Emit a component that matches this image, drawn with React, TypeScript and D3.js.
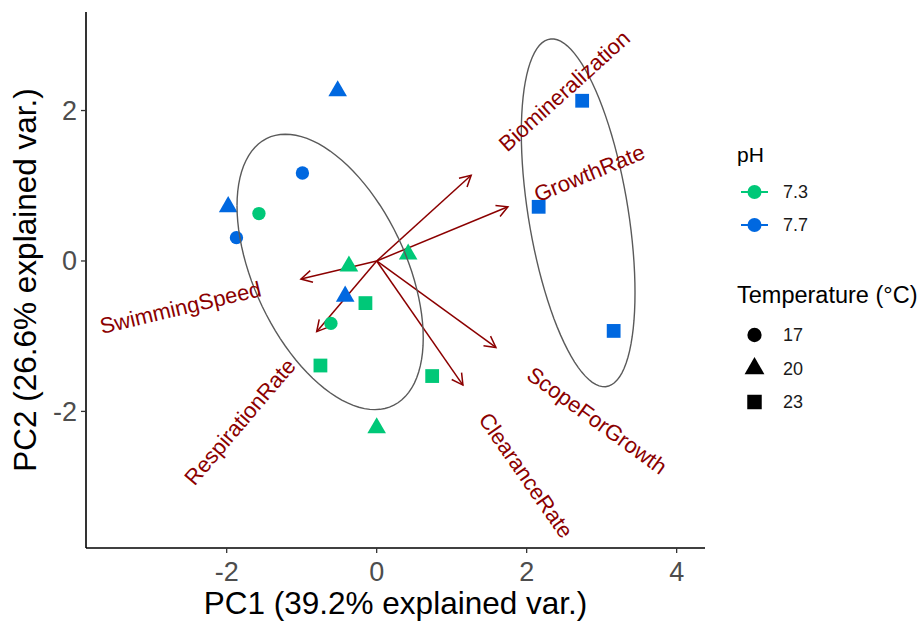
import React from "react";
import * as d3 from "d3";

// PCA scores
const pc1 = [-0.52, -1.98, -0.99, -1.87, -1.57, -0.37, 0.42, -0.42, -0.15, -0.61, -0.75, 0.74, 0.0, 2.74, 2.16, 3.16];
const pc2 = [2.26, 0.72, 1.17, 0.31, 0.63, -0.07, 0.09, -0.47, -0.56, -0.83, -1.39, -1.53, -2.22, 2.13, 0.72, -0.93];
const phLevel = ["7.7", "7.7", "7.7", "7.7", "7.3", "7.3", "7.3", "7.7", "7.3", "7.3", "7.3", "7.3", "7.3", "7.7", "7.7", "7.7"];
const tempLevel = ["20", "20", "17", "17", "17", "20", "20", "20", "23", "17", "23", "23", "20", "23", "23", "23"];
const ellipseGroup = ["a", "a", "a", "a", "a", "a", "a", "a", "a", "a", "a", "a", "a", "b", "b", "b"];

// variable loadings (arrow tips)
const varNames = ["Biomineralization", "GrowthRate", "SwimmingSpeed", "RespirationRate", "ScopeForGrowth", "ClearanceRate"];
const varX = [1.26, 1.75, -1.01, -0.8, 1.59, 1.15];
const varY = [1.14, 0.72, -0.24, -0.94, -1.15, -1.65];

const phLevels = ["7.3", "7.7"];
const phColors = ["#00C878", "#0068E0"];
const tempLevels = ["17", "20", "23"];
const xTicks = [-2, 0, 2, 4];
const yTicks = [-2, 0, 2];

const W = 920;
const H = 624;
const FONT = "'Liberation Sans', Arial, Helvetica, sans-serif";
const LABEL_SIZE = 22;

let ctx: CanvasRenderingContext2D | null = null;
const textWidth = (s: string, size: number) => {
  if (!ctx) ctx = document.createElement("canvas").getContext("2d");
  if (!ctx) return s.length * size * 0.55;
  ctx.font = `${size}px ${FONT}`;
  return ctx.measureText(s).width;
};

const App = () => {
  const x = d3.scaleLinear().domain([-3.876, 4.378]).range([86, 705]);
  const y = d3.scaleLinear().domain([-3.816, 3.31]).range([548, 12]);
  const color = d3.scaleOrdinal<string, string>().domain(phLevels).range(phColors);
  const shape = d3
    .scaleOrdinal<string, d3.SymbolType>()
    .domain(tempLevels)
    .range([d3.symbolCircle, d3.symbolTriangle, d3.symbolSquare]);
  const sizeOf = (t: string) => (t === "17" ? 140 : t === "20" ? 150 : 190);

  const points = pc1.map((v, i) => ({
    x: v,
    y: pc2[i],
    ph: phLevel[i],
    temp: tempLevel[i],
    group: ellipseGroup[i],
  }));

  // 68% normal ellipses, same way ggbiplot does it
  const ed = Math.sqrt(-2 * Math.log(1 - 0.68));
  const groups = Array.from(new Set(ellipseGroup));
  const ellipses = groups.map((g) => {
    const pts = points.filter((p) => p.group === g);
    const mx = d3.mean(pts, (p) => p.x) as number;
    const my = d3.mean(pts, (p) => p.y) as number;
    const n = pts.length;
    const sxx = d3.sum(pts, (p) => (p.x - mx) ** 2) / (n - 1);
    const syy = d3.sum(pts, (p) => (p.y - my) ** 2) / (n - 1);
    const sxy = d3.sum(pts, (p) => (p.x - mx) * (p.y - my)) / (n - 1);
    const r11 = Math.sqrt(sxx);
    const r12 = sxy / r11;
    const r22 = Math.sqrt(syy - r12 * r12);
    const ring = d3.range(101).map((k) => {
      const t = -Math.PI + (2 * Math.PI * k) / 100;
      const c = Math.cos(t);
      const s = Math.sin(t);
      return [mx + ed * c * r11, my + ed * (c * r12 + s * r22)] as [number, number];
    });
    return d3
      .line<[number, number]>()
      .x((d) => x(d[0]))
      .y((d) => y(d[1]))(ring);
  });

  const arrowColor = "#8B0000";

  return (
    <svg width={W} height={H} style={{ position: "absolute", left: 0, top: 0, background: "#fff" }} fontFamily={FONT}>
      <defs>
        <marker id="ah" viewBox="-12 -8 14 16" refX={0} refY={0} markerWidth={14} markerHeight={16} markerUnits="userSpaceOnUse" orient="auto">
          <path d="M-11,-6 L0,0 L-11,6" fill="none" stroke={arrowColor} strokeWidth={1.5} />
        </marker>
      </defs>

      {/* arrows */}
      {varNames.map((n, i) => (
        <line
          key={n}
          x1={x(0)}
          y1={y(0)}
          x2={x(varX[i])}
          y2={y(varY[i])}
          stroke={arrowColor}
          strokeWidth={1.5}
          markerEnd="url(#ah)"
        />
      ))}

      {/* points */}
      {points.map((p, i) => (
        <path
          key={i}
          d={d3.symbol().type(shape(p.temp)).size(sizeOf(p.temp))() as string}
          transform={`translate(${x(p.x)},${y(p.y)})`}
          fill={color(p.ph)}
        />
      ))}

      {/* ellipses */}
      {ellipses.map((d, i) => (
        <path key={i} d={d as string} fill="none" stroke="#5a5a5a" strokeWidth={1.4} />
      ))}

      {/* variable labels */}
      {varNames.map((n, i) => {
        const angle = (180 / Math.PI) * Math.atan(varY[i] / varX[i]);
        const w = textWidth(n, LABEL_SIZE);
        const right = varX[i] > 0;
        return (
          <text
            key={n}
            transform={`translate(${x(varX[i])},${y(varY[i])}) rotate(${-angle})`}
            x={right ? 0.25 * w : -0.25 * w}
            textAnchor={right ? "start" : "end"}
            dominantBaseline="central"
            fontSize={LABEL_SIZE}
            fill={arrowColor}
          >
            {n}
          </text>
        );
      })}

      {/* axes */}
      <line x1={86} y1={548} x2={705} y2={548} stroke="#000" strokeWidth={1.6} />
      <line x1={86} y1={12} x2={86} y2={548} stroke="#000" strokeWidth={1.6} />
      {xTicks.map((t) => (
        <g key={t} transform={`translate(${x(t)},548)`}>
          <line y2={5} stroke="#333" strokeWidth={1.3} />
          <text y={33} textAnchor="middle" fontSize={27} fill="#4D4D4D">
            {t < 0 ? `-${-t}` : t}
          </text>
        </g>
      ))}
      {yTicks.map((t) => (
        <g key={t} transform={`translate(86,${y(t)})`}>
          <line x2={-5} stroke="#333" strokeWidth={1.3} />
          <text x={-9} dy="0.35em" textAnchor="end" fontSize={27} fill="#4D4D4D">
            {t < 0 ? `-${-t}` : t}
          </text>
        </g>
      ))}
      <text x={(86 + 705) / 2} y={614} textAnchor="middle" fontSize={31.5} fill="#000">
        PC1 (39.2% explained var.)
      </text>
      <text transform={`translate(36,${(12 + 548) / 2}) rotate(-90)`} textAnchor="middle" fontSize={31.5} fill="#000">
        PC2 (26.6% explained var.)
      </text>

      {/* legend: pH */}
      <text x={737} y={162} fontSize={21} fill="#000">
        pH
      </text>
      {phLevels.map((l, i) => {
        const cy = 192 + i * 33;
        return (
          <g key={l}>
            <line x1={741} x2={768} y1={cy} y2={cy} stroke={color(l)} strokeWidth={2} />
            <circle cx={754.5} cy={cy} r={7} fill={color(l)} />
            <text x={783} y={cy} dy="0.35em" fontSize={18} fill="#1a1a1a">
              {l}
            </text>
          </g>
        );
      })}

      {/* legend: temperature */}
      <text x={737} y={303} fontSize={23.5} fill="#000">
        Temperature (°C)
      </text>
      {tempLevels.map((l, i) => {
        const cy = 335 + i * 33.5;
        return (
          <g key={l}>
            <path
              d={d3.symbol().type(shape(l)).size(sizeOf(l) + 20)() as string}
              transform={`translate(754.5,${cy})`}
              fill="#000"
            />
            <text x={783} y={cy} dy="0.35em" fontSize={18} fill="#1a1a1a">
              {l}
            </text>
          </g>
        );
      })}
    </svg>
  );
};

export default App;
